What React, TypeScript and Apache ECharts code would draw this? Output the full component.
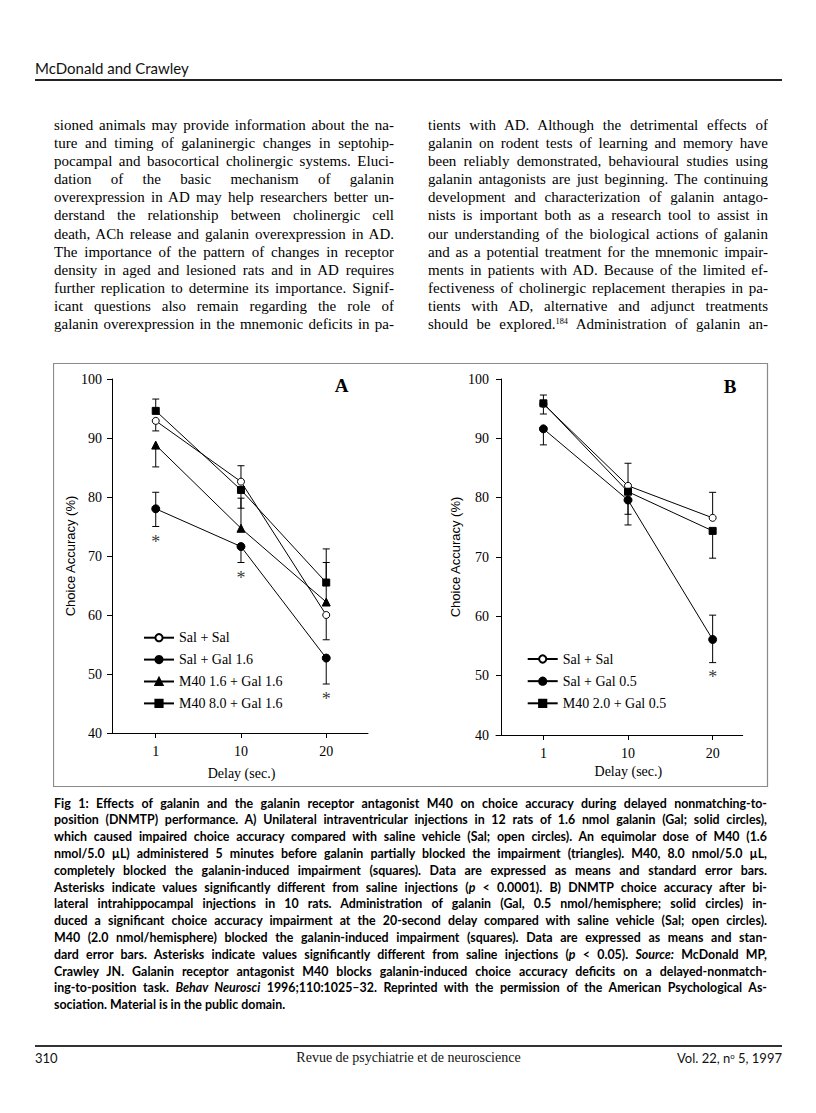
import React, { useEffect, useRef } from "react";
import * as echarts from "echarts";

// ---------- DATA ----------
const delays = ["1", "10", "20"];
const xIdx = [0, 1, 2];

// Panel A (means)
const aSalSal = [92.9, 82.6, 60.0];
const aSalGal = [78.0, 71.6, 52.7];
const aM40lo = [88.8, 74.7, 62.2];
const aM40hi = [94.6, 81.2, 65.5];
// Panel A error bar ends (low / high as drawn)
const aSalSalLo = [91.2, 82.6, 55.8];
const aSalSalHi = [92.9, 85.3, 60.0];
const aSalGalLo = [75.0, 68.9, 48.3];
const aSalGalHi = [80.8, 71.6, 52.7];
const aM40loLo = [85.1, 74.7, 62.2];
const aM40loHi = [88.8, 79.8, 68.9];
const aM40hiLo = [94.6, 78.1, 65.5];
const aM40hiHi = [96.6, 81.2, 71.2];
const aStars = [[0, 73.0], [1, 67.0], [2, 46.4]];

// Panel B (means)
const bSalSal = [95.8, 82.0, 76.6];
const bSalGal = [91.6, 79.6, 56.1];
const bM40 = [95.9, 81.0, 74.4];
const bSalSalLo = [94.1, 82.0, 76.6];
const bSalSalHi = [95.8, 85.8, 80.9];
const bSalGalLo = [88.9, 75.4, 52.2];
const bSalGalHi = [91.6, 79.6, 60.2];
const bM40Lo = [95.9, 77.2, 69.8];
const bM40Hi = [97.3, 81.0, 74.4];
const bStars = [[2, 50.4]];

const legendA = ["Sal + Sal", "Sal + Gal 1.6", "M40 1.6 + Gal 1.6", "M40 8.0 + Gal 1.6"];
const legendB = ["Sal + Sal", "Sal + Gal 0.5", "M40 2.0 + Gal 0.5"];
const yTitle = "Choice Accuracy (%)";
const xTitle = "Delay (sec.)";

// ---------- PAGE TEXT ----------
const leftLines = [
  "sioned animals may provide information about the na-",
  "ture and timing of galaninergic changes in septohip-",
  "pocampal and basocortical cholinergic systems. Eluci-",
  "dation of the basic mechanism of galanin",
  "overexpression in AD may help researchers better un-",
  "derstand the relationship between cholinergic cell",
  "death, ACh release and galanin overexpression in AD.",
  "The importance of the pattern of changes in receptor",
  "density in aged and lesioned rats and in AD requires",
  "further replication to determine its importance. Signif-",
  "icant questions also remain regarding the role of",
  "galanin overexpression in the mnemonic deficits in pa-",
];
const rightLines = [
  "tients with AD. Although the detrimental effects of",
  "galanin on rodent tests of learning and memory have",
  "been reliably demonstrated, behavioural studies using",
  "galanin antagonists are just beginning. The continuing",
  "development and characterization of galanin antago-",
  "nists is important both as a research tool to assist in",
  "our understanding of the biological actions of galanin",
  "and as a potential treatment for the mnemonic impair-",
  "ments in patients with AD. Because of the limited ef-",
  "fectiveness of cholinergic replacement therapies in pa-",
  "tients with AD, alternative and adjunct treatments",
  "should be explored.^184^ Administration of galanin an-",
];
const captionLines = [
  "Fig 1: Effects of galanin and the galanin receptor antagonist M40 on choice accuracy during delayed nonmatching-to-",
  "position (DNMTP) performance. A) Unilateral intraventricular injections in 12 rats of 1.6 nmol galanin (Gal; solid circles),",
  "which caused impaired choice accuracy compared with saline vehicle (Sal; open circles). An equimolar dose of M40 (1.6",
  "nmol/5.0 \u00b5L) administered 5 minutes before galanin partially blocked the impairment (triangles). M40, 8.0 nmol/5.0 \u00b5L,",
  "completely blocked the galanin-induced impairment (squares). Data are expressed as means and standard error bars.",
  "Asterisks indicate values significantly different from saline injections (_p_ < 0.0001). B) DNMTP choice accuracy after bi-",
  "lateral intrahippocampal injections in 10 rats. Administration of galanin (Gal, 0.5 nmol/hemisphere; solid circles) in-",
  "duced a significant choice accuracy impairment at the 20-second delay compared with saline vehicle (Sal; open circles).",
  "M40 (2.0 nmol/hemisphere) blocked the galanin-induced impairment (squares). Data are expressed as means and stan-",
  "dard error bars. Asterisks indicate values significantly different from saline injections (_p_ < 0.05). _Source:_ McDonald MP,",
  "Crawley JN. Galanin receptor antagonist M40 blocks galanin-induced choice accuracy deficits on a delayed-nonmatch-",
  "ing-to-position task. _Behav Neurosci_ 1996;110:1025\u201332. Reprinted with the permission of the American Psychological As-",
  "sociation. Material is in the public domain.",
];

const serif = "'Liberation Serif', 'Times New Roman', serif";
const sans = "'Liberation Sans', Arial, sans-serif";
const gill = "Lato, 'Noto Sans', sans-serif";

function rich(text: string) {
  const parts = text.split(/(_[^_]+_|\^[^^]+\^)/);
  return parts.map((p, i) => {
    if (p.startsWith("_") && p.endsWith("_") && p.length > 1)
      return <i key={i}>{p.slice(1, -1)}</i>;
    if (p.startsWith("^") && p.endsWith("^") && p.length > 1)
      return (
        <sup key={i} style={{ fontSize: "0.55em", verticalAlign: "0.6em", lineHeight: 0 }}>
          {p.slice(1, -1)}
        </sup>
      );
    return <React.Fragment key={i}>{p}</React.Fragment>;
  });
}

function Lines({ lines, left, top, width, lh, font, size, weight, lastLeft }: any) {
  return (
    <div style={{ position: "absolute", left, top, width, fontFamily: font, fontSize: size, fontWeight: weight, color: "#000" }}>
      {lines.map((t: string, i: number) => (
        <div
          key={i}
          style={{
            height: lh,
            lineHeight: lh + "px",
            overflow: "hidden",
            textAlign: "justify",
            textAlignLast: lastLeft && i === lines.length - 1 ? "left" : "justify",
          }}
        >
          {rich(t)}
        </div>
      ))}
    </div>
  );
}

function buildOption() {
  const xAxis = (gridIndex: number, min: number, max: number, nameGap: number, pad: number) => ({
    type: "value",
    gridIndex,
    min,
    max,
    name: xTitle,
    nameLocation: "middle",
    nameGap,
    nameTextStyle: { fontFamily: serif, fontSize: 14, color: "#000", padding: [0, 0, 0, pad] },
    axisLine: { show: true, onZero: false, lineStyle: { color: "#000", width: 1 } },
    axisTick: { show: true, customValues: xIdx, length: 5, lineStyle: { color: "#000" } },
    axisLabel: {
      customValues: xIdx,
      formatter: (v: number) => delays[Math.round(v)] ?? "",
      fontFamily: serif,
      fontSize: 14,
      color: "#000",
      margin: 11,
    },
    splitLine: { show: false },
  });
  const yAxis = (gridIndex: number, offset: number, margin: number, nameGap: number) => ({
    type: "value",
    gridIndex,
    min: 40,
    max: 100,
    interval: 10,
    offset,
    name: yTitle,
    nameLocation: "middle",
    nameGap,
    nameRotate: 90,
    nameTextStyle: { fontFamily: sans, fontSize: 13, color: "#000" },
    axisLine: { show: true, onZero: false, lineStyle: { color: "#000", width: 1 } },
    axisTick: { show: true, length: 5, lineStyle: { color: "#000" } },
    axisLabel: { fontFamily: serif, fontSize: 14, color: "#000", margin },
    splitLine: { show: false },
  });
  const line = (name: string, idx: number, vals: number[], symbol: string, size: number, fill: string) => ({
    type: "line",
    name,
    xAxisIndex: idx,
    yAxisIndex: idx,
    data: xIdx.map((x, i) => [x, vals[i]]),
    symbol,
    symbolSize: size,
    showSymbol: true,
    lineStyle: { color: "#000", width: 1 },
    itemStyle: { color: fill, borderColor: "#000", borderWidth: 1 },
    emphasis: { disabled: true },
    silent: true,
    z: 3,
  });
  const err = (idx: number, lo: number[], hi: number[], mean: number[]) => ({
    type: "custom",
    xAxisIndex: idx,
    yAxisIndex: idx,
    silent: true,
    z: 1,
    data: xIdx.map((x, i) => [x, lo[i], hi[i], mean[i]]),
    encode: { x: 0, y: [1, 2] },
    renderItem: (_p: any, api: any) => {
      const x = api.value(0);
      const l = api.value(1);
      const h = api.value(2);
      const m = api.value(3);
      const pl = api.coord([x, l]);
      const ph = api.coord([x, h]);
      const cw = 3.5;
      const st = { stroke: "#000", lineWidth: 1 };
      const children: any[] = [
        { type: "line", shape: { x1: pl[0], y1: pl[1], x2: ph[0], y2: ph[1] }, style: st },
      ];
      if (l !== m) children.push({ type: "line", shape: { x1: pl[0] - cw, y1: pl[1], x2: pl[0] + cw, y2: pl[1] }, style: st });
      if (h !== m) children.push({ type: "line", shape: { x1: ph[0] - cw, y1: ph[1], x2: ph[0] + cw, y2: ph[1] }, style: st });
      return { type: "group", children };
    },
  });
  const stars = (idx: number, data: number[][]) => ({
    type: "scatter",
    xAxisIndex: idx,
    yAxisIndex: idx,
    data,
    symbolSize: 1,
    itemStyle: { color: "transparent" },
    label: { show: true, formatter: "*", position: "inside", fontFamily: serif, fontSize: 18, color: "#000", offset: [0, 4] },
    silent: true,
    z: 4,
  });
  const legendText = { fontFamily: serif, fontSize: 14, color: "#000", lineHeight: 14 };

  return {
    animation: false,
    backgroundColor: "#fff",
    grid: [
      { left: 55, top: 16, width: 260, height: 354 },
      { left: 443, top: 16, width: 246.7, height: 356 },
    ],
    xAxis: [xAxis(0, -0.56, 2.49, 33, 7), xAxis(1, -0.56, 2.355, 25, 18)],
    yAxis: [yAxis(0, -4, 10, 34), yAxis(1, -5, 12, 39)],
    legend: [
      {
        data: legendA,
        orient: "vertical",
        left: 85,
        top: 262.7,
        itemWidth: 30,
        itemHeight: 9,
        itemGap: 7.9,
        selectedMode: false,
        textStyle: legendText,
      },
      {
        data: legendB,
        orient: "vertical",
        left: 468.7,
        top: 284,
        itemWidth: 30,
        itemHeight: 9,
        itemGap: 8.15,
        selectedMode: false,
        textStyle: legendText,
      },
    ],
    series: [
      err(0, aSalSalLo, aSalSalHi, aSalSal),
      err(0, aSalGalLo, aSalGalHi, aSalGal),
      err(0, aM40loLo, aM40loHi, aM40lo),
      err(0, aM40hiLo, aM40hiHi, aM40hi),
      line(legendA[0], 0, aSalSal, "circle", 7, "#fff"),
      line(legendA[1], 0, aSalGal, "circle", 8, "#000"),
      line(legendA[2], 0, aM40lo, "triangle", 8, "#000"),
      line(legendA[3], 0, aM40hi, "rect", 7, "#000"),
      stars(0, aStars),
      err(1, bSalSalLo, bSalSalHi, bSalSal),
      err(1, bSalGalLo, bSalGalHi, bSalGal),
      err(1, bM40Lo, bM40Hi, bM40),
      line(legendB[0], 1, bSalSal, "circle", 7, "#fff"),
      line(legendB[1], 1, bSalGal, "circle", 8, "#000"),
      line(legendB[2], 1, bM40, "rect", 7, "#000"),
      stars(1, bStars),
    ],
    graphic: [
      {
        type: "rect",
        silent: true,
        shape: { x: 0.5, y: 0.5, width: 714, height: 423 },
        style: { fill: "none", stroke: "#8a8a8a", lineWidth: 1.2 },
      },
      {
        type: "text",
        silent: true,
        x: 288.7,
        y: 22,
        style: { text: "A", font: `bold 19px ${serif}`, fill: "#000", align: "center", verticalAlign: "middle" },
      },
      {
        type: "text",
        silent: true,
        x: 677,
        y: 23,
        style: { text: "B", font: `bold 19px ${serif}`, fill: "#000", align: "center", verticalAlign: "middle" },
      },
    ],
  };
}

function Figure() {
  const ref = useRef<HTMLDivElement>(null);
  useEffect(() => {
    const chart = echarts.init(ref.current!, null, { renderer: "svg" });
    chart.setOption(buildOption() as any);
    return () => chart.dispose();
  }, []);
  return <div ref={ref} style={{ position: "absolute", left: 53, top: 363, width: 716, height: 425 }} />;
}

export default function App() {
  return (
    <div style={{ position: "absolute", left: 0, top: 0, width: 816, height: 1113, background: "#fff", overflow: "hidden" }}>
      <div style={{ position: "absolute", left: 35, top: 58, fontFamily: gill, fontSize: 15, lineHeight: "20px", color: "#111" }}>
        McDonald and Crawley
      </div>
      <div style={{ position: "absolute", left: 35, top: 79, width: 747, height: 2, background: "#222" }} />

      <Lines lines={leftLines} left={54} top={116} width={340} lh={18.1} font={serif} size={15} weight={400} />
      <Lines lines={rightLines} left={428} top={116} width={340} lh={18.1} font={serif} size={15} weight={400} />

      <Figure />

      <Lines lines={captionLines} left={54} top={795.6} width={713} lh={16.8} font={gill} size={12.4} weight={700} lastLeft />

      <div style={{ position: "absolute", left: 35, top: 1045, width: 747, height: 1.5, background: "#333" }} />
      <div style={{ position: "absolute", left: 35, top: 1049, width: 747, height: 18, lineHeight: "18px" }}>
        <span style={{ position: "absolute", left: 0, fontFamily: gill, fontSize: 13, color: "#111" }}>310</span>
        <span style={{ position: "absolute", left: 0, width: 747, textAlign: "center", fontFamily: serif, fontSize: 14, color: "#111" }}>
          Revue de psychiatrie et de neuroscience
        </span>
        <span style={{ position: "absolute", right: 0, fontFamily: gill, fontSize: 13, color: "#111" }}>
          Vol. 22, n<sup style={{ fontSize: "0.6em", verticalAlign: "0.5em", lineHeight: 0 }}>o</sup> 5, 1997
        </span>
      </div>
    </div>
  );
}
